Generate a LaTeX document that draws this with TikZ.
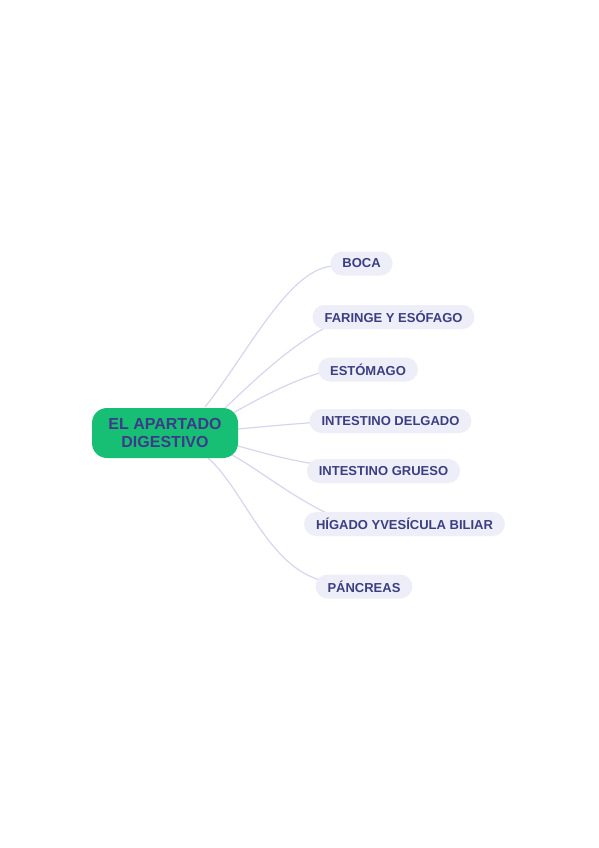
\documentclass[tikz,border=0pt]{standalone}
\usepackage{fontspec}
\setmainfont{Liberation Sans}
\usetikzlibrary{backgrounds}
\definecolor{mgreen}{HTML}{17BF75}
\definecolor{mtext}{HTML}{3B3F82}
\definecolor{ctext}{HTML}{3D3A8A}
\definecolor{mfill}{HTML}{EEEEF8}
\definecolor{mline}{HTML}{D5D7EF}
\begin{document}
\begin{tikzpicture}[x=1pt,y=-1pt,
  root/.style={fill=mgreen, rounded corners=15pt, minimum width=146pt, minimum height=50pt,
    inner sep=0pt, align=center, text=ctext, font=\fontsize{16}{18}\selectfont\bfseries},
  topic/.style={fill=mfill, rounded corners=12pt, minimum height=24pt, inner xsep=12pt,
    inner ysep=0pt, text=mtext, font=\fontsize{13}{15}\selectfont\bfseries},
  conn/.style={draw=mline, line width=1.2pt}]
\useasboundingbox (0,0) rectangle (599,848);

\node[root] (c) at (165,433) {EL APARTADO\\DIGESTIVO};
\node[topic] (boca) at (361.5,263.5) {BOCA};
\node[topic] (far) at (393.5,317) {FARINGE Y ESÓFAGO};
\node[topic] (est) at (368,369.5) {ESTÓMAGO};
\node[topic] (del) at (390.5,421) {INTESTINO DELGADO};
\node[topic] (gru) at (383.5,471) {INTESTINO GRUESO};
\node[topic] (hig) at (404.5,524) {HÍGADO YVESÍCULA BILIAR};
\node[topic] (pan) at (364,586.5) {PÁNCREAS};

\begin{scope}[on background layer]
\fill[white] (0,0) rectangle (599,848);
\draw[conn] ([shift={(40,-26)}]c.center) .. controls +(45,-57) and +(-45,0) .. ([shift={(5,2.5)}]boca.west);
\draw[conn] ([shift={(60,-25)}]c.center) .. controls +(35,-33) and +(-45,17) .. ([shift={(34,1)}]far.west);
\draw[conn] ([shift={(68,-20)}]c.center) .. controls +(27,-15) and +(-35,8) .. ([shift={(13,0.5)}]est.west);
\draw[conn] ([shift={(73,-4)}]c.center) .. controls +(22,-2) and +(-30,2) .. ([shift={(12,1)}]del.west);
\draw[conn] ([shift={(73,13)}]c.center) .. controls +(22,6) and +(-35,-5) .. ([shift={(15,-6)}]gru.west);
\draw[conn] ([shift={(67,22)}]c.center) .. controls +(28,15) and +(-45,-17) .. ([shift={(43,-2)}]hig.west);
\draw[conn] ([shift={(43,25)}]c.center) .. controls +(37,32) and +(-60,-7) .. ([shift={(15,-4.5)}]pan.west);
\end{scope}
\end{tikzpicture}
\end{document}
